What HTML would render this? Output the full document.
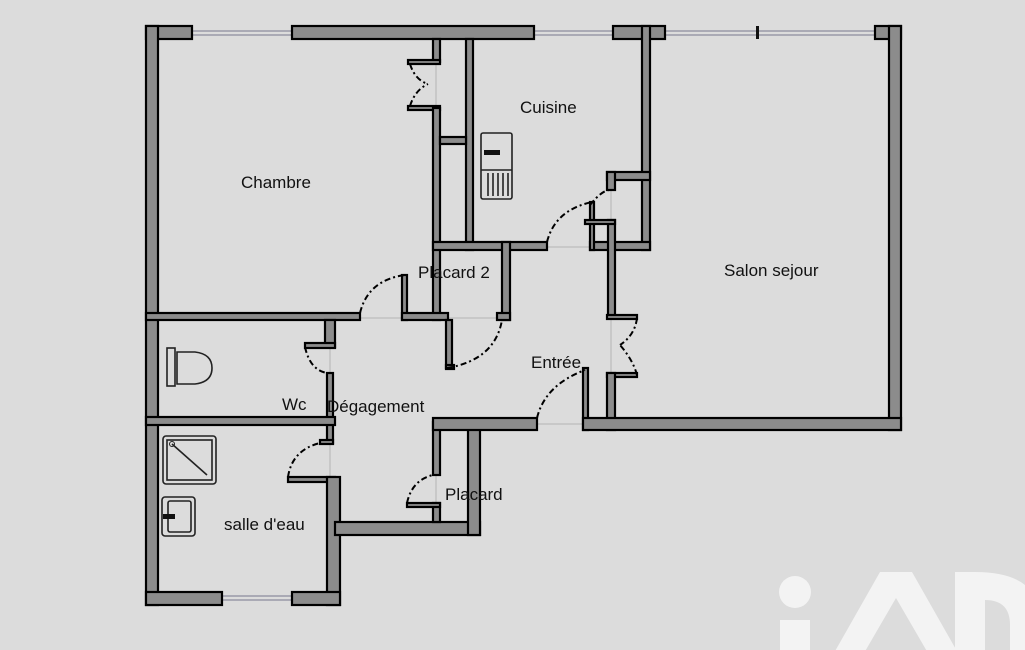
<!DOCTYPE html>
<html><head><meta charset="utf-8"><style>
html,body{margin:0;padding:0;background:#dcdcdc;}
svg{display:block}
text{font-family:"Liberation Sans",sans-serif;font-size:17px;fill:#111;}
</style></head><body>
<svg width="1025" height="650" viewBox="0 0 1025 650" xmlns="http://www.w3.org/2000/svg">
<rect width="1025" height="650" fill="#dcdcdc"/>
<g fill="#f3f3f3">
<circle cx="795" cy="592" r="16"/>
<rect x="780" y="620" width="30" height="40"/>
<path d="M830 660 L880 572 L912 572 L962 660 L932 660 L896 598 L860 660 Z"/>
<path d="M955 572 L975 572 Q1040 572 1040 620 L1040 660 L1010 660 L1010 625 Q1010 600 985 600 L985 660 L955 660 Z"/>
</g>
<g stroke="#9a9aa8" stroke-width="1.5">
<line x1="192" y1="31" x2="292" y2="31"/><line x1="192" y1="35" x2="292" y2="35"/>
<line x1="534" y1="31" x2="613" y2="31"/><line x1="534" y1="35" x2="613" y2="35"/>
<line x1="665" y1="31" x2="875" y2="31"/><line x1="665" y1="35" x2="875" y2="35"/>
<line x1="222" y1="596" x2="292" y2="596"/><line x1="222" y1="600" x2="292" y2="600"/>
</g>
<rect x="756" y="26" width="3" height="13" fill="#111"/>
<g stroke="#b4b4b4" stroke-width="1">
<line x1="360" y1="318" x2="402" y2="318"/><line x1="447" y1="318" x2="502" y2="318"/>
<line x1="547" y1="247" x2="590" y2="247"/><line x1="537" y1="424" x2="583" y2="424"/>
<line x1="330" y1="347" x2="330" y2="373"/><line x1="330" y1="443" x2="330" y2="477"/>
<line x1="611" y1="318" x2="611" y2="373"/><line x1="436" y1="64" x2="436" y2="106"/>
<line x1="436" y1="475" x2="436" y2="503"/><line x1="611" y1="180" x2="611" y2="220"/>
</g>
<g fill="#8c8c8c" stroke="#000" stroke-width="2.2">
<rect x="146" y="26" width="46" height="13"/>
<rect x="146" y="26" width="12" height="579"/>
<rect x="292" y="26" width="242" height="13"/>
<rect x="613" y="26" width="52" height="13"/>
<rect x="642" y="26" width="8" height="224"/>
<rect x="875" y="26" width="26" height="13"/>
<rect x="889" y="26" width="12" height="404"/>
<rect x="433" y="39" width="7" height="23"/>
<rect x="408" y="60" width="32" height="4"/>
<rect x="408" y="106" width="32" height="4"/>
<rect x="433" y="108" width="7" height="212"/>
<rect x="466" y="39" width="7" height="211"/>
<rect x="440" y="137" width="26" height="7"/>
<rect x="433" y="242" width="114" height="8"/>
<rect x="607" y="172" width="43" height="8"/>
<rect x="607" y="172" width="8" height="18"/>
<rect x="590" y="242" width="60" height="8"/>
<rect x="608" y="220" width="7" height="97"/>
<rect x="590" y="202" width="4" height="48"/>
<rect x="585" y="220" width="30" height="4"/>
<rect x="502" y="242" width="8" height="78"/>
<rect x="497" y="313" width="13" height="7"/>
<rect x="146" y="313" width="214" height="7"/>
<rect x="402" y="275" width="5" height="45"/>
<rect x="402" y="313" width="46" height="7"/>
<rect x="446" y="320" width="6" height="48"/>
<rect x="446" y="365" width="8" height="4"/>
<rect x="607" y="315" width="30" height="4"/>
<rect x="607" y="373" width="30" height="4"/>
<rect x="607" y="373" width="8" height="57"/>
<rect x="325" y="320" width="10" height="27"/>
<rect x="305" y="343" width="30" height="5"/>
<rect x="327" y="373" width="6" height="70"/>
<rect x="320" y="440" width="13" height="4"/>
<rect x="146" y="417" width="189" height="8"/>
<rect x="288" y="477" width="47" height="5"/>
<rect x="327" y="477" width="13" height="128"/>
<rect x="146" y="592" width="76" height="13"/>
<rect x="292" y="592" width="48" height="13"/>
<rect x="335" y="522" width="145" height="13"/>
<rect x="468" y="423" width="12" height="112"/>
<rect x="433" y="422" width="7" height="53"/>
<rect x="433" y="503" width="7" height="19"/>
<rect x="407" y="503" width="33" height="4"/>
<rect x="433" y="418" width="104" height="12"/>
<rect x="583" y="368" width="5" height="62"/>
<rect x="583" y="418" width="318" height="12"/>
</g>
<g fill="none" stroke="#000" stroke-width="2" stroke-dasharray="6 3 2 3">
<path d="M360,313 Q368,280 405,275"/>
<path d="M410,64 Q415,80 428,84"/><path d="M410,106 Q415,90 428,84"/>
<path d="M547,242 Q555,210 592,202"/><path d="M590,205 Q602,190 610,190"/>
<path d="M447,368 Q495,360 502,320"/>
<path d="M537,418 Q545,385 585,370"/>
<path d="M637,318 Q635,335 620,345"/><path d="M637,375 Q633,360 620,345"/>
<path d="M305,347 Q310,370 327,373"/>
<path d="M288,477 Q292,450 320,443"/>
<path d="M407,503 Q412,480 433,475"/>
</g>
<g fill="none" stroke="#222" stroke-width="1.6">
<rect x="481" y="133" width="31" height="66" rx="2"/>
<line x1="481" y1="170" x2="512" y2="170"/>
<line x1="488" y1="173" x2="488" y2="196"/><line x1="493" y1="173" x2="493" y2="196"/><line x1="498" y1="173" x2="498" y2="196"/><line x1="503" y1="173" x2="503" y2="196"/><line x1="508" y1="173" x2="508" y2="196"/>
<rect x="167" y="348" width="8" height="38"/>
<path d="M177,352 L195,352 Q212,354 212,368 Q212,382 195,384 L177,384 Z"/>
<rect x="163" y="436" width="53" height="48" rx="3"/>
<rect x="167" y="440" width="45" height="40"/>
<line x1="172" y1="444" x2="207" y2="475"/>
<rect x="162" y="497" width="33" height="39" rx="3"/>
<rect x="168" y="501" width="23" height="31" rx="2"/>
</g>
<rect x="484" y="150" width="16" height="5" fill="#111"/>
<rect x="163" y="514" width="12" height="5" fill="#111"/>
<circle cx="172" cy="444" r="2.5" fill="none" stroke="#222"/>
<text x="241" y="188">Chambre</text>
<text x="520" y="113">Cuisine</text>
<text x="418" y="278">Placard 2</text>
<text x="724" y="276">Salon sejour</text>
<text x="531" y="368">Entrée</text>
<text x="282" y="410">Wc</text>
<text x="327" y="412">Dégagement</text>
<text x="445" y="500">Placard</text>
<text x="224" y="530">salle d'eau</text>
</svg>
</body></html>
